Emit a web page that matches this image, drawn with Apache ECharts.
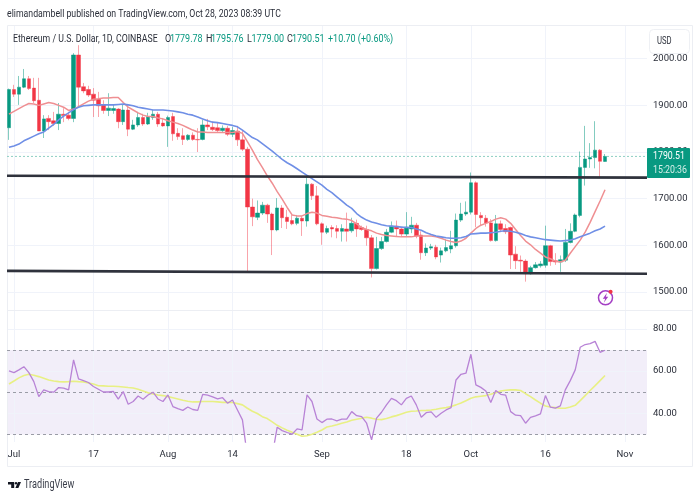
<!DOCTYPE html>
<html><head><meta charset="utf-8">
<style>html,body{margin:0;padding:0;background:#fff}#c{width:700px;height:500px}</style>
<script src="https://cdn.jsdelivr.net/npm/echarts@6/dist/echarts.min.js"></script></head>
<body><div id="c"></div>
<script>
const opens=[1852,1934,1924,1939,1957,1937,1911,1845,1872,1867,
1861,1881,1879,1872,2008,1940,1934,1924,1913,1901,
1889,1889,1892,1865,1890,1849,1858,1874,1860,1874,
1881,1862,1856,1876,1840,1835,1827,1836,1827,1827,
1858,1853,1852,1846,1851,1838,1845,1826,1806,1682,
1660,1669,1686,1667,1633,1680,1660,1653,1647,1658,
1652,1731,1706,1646,1628,1638,1636,1630,1635,1631,
1647,1638,1634,1616,1550,1593,1608,1628,1641,1635,
1624,1635,1643,1622,1584,1594,1596,1579,1588,1592,
1599,1654,1667,1671,1734,1664,1658,1648,1610,1646,
1636,1638,1581,1568,1566,1539,1552,1556,1557,1599,
1567,1564,1568,1606,1630,1664,1767,1785,1788,1804,1779.78];
const closes=[1934,1924,1939,1957,1936,1910,1845,1871,1865,1861,
1881,1878,1872,2008,1939,1931,1922,1911,1899,1889,
1894,1893,1865,1890,1849,1858,1874,1860,1876,1881,
1860,1856,1874,1839,1833,1827,1836,1827,1826,1858,
1854,1848,1846,1851,1838,1846,1826,1806,1682,1661,
1669,1686,1667,1633,1680,1659,1651,1646,1658,1652,
1731,1706,1646,1628,1636,1635,1630,1636,1630,1647,
1635,1634,1616,1550,1593,1608,1628,1641,1635,1624,
1639,1643,1620,1584,1594,1597,1575,1588,1595,1599,
1654,1667,1671,1734,1666,1659,1648,1610,1646,1634,
1629,1579,1567,1566,1539,1552,1558,1560,1599,1565,
1564,1569,1606,1630,1665,1767,1785,1788,1804,1780,1790.51];
const lows=[1826,1918,1901,1937,1933,1905,1845,1830,1847,1856,
1847,1864,1868,1864,1897,1926,1918,1875,1875,1882,
1877,1882,1851,1858,1834,1847,1854,1856,1858,1869,
1854,1854,1811,1824,1826,1815,1824,1824,1800,1825,
1847,1845,1841,1843,1834,1832,1813,1802,1543,1641,
1654,1665,1648,1579,1630,1637,1635,1643,1643,1620,
1640,1697,1643,1601,1624,1617,1615,1608,1608,1627,
1618,1631,1599,1531,1548,1590,1606,1626,1618,1618,
1618,1626,1615,1569,1577,1590,1570,1563,1585,1583,
1595,1650,1663,1666,1639,1641,1640,1608,1608,1628,
1624,1549,1549,1543,1522,1537,1550,1552,1552,1556,
1558,1543,1564,1604,1628,1660,1728,1766,1765,1745,1779];
const highs=[1936,1944,1963,1978,1963,1959,1959,1879,1879,1886,
1905,1894,1886,2012,2029,1948,1942,1937,1929,1911,
1926,1901,1894,1901,1901,1869,1886,1882,1884,1890,
1886,1873,1878,1884,1851,1851,1838,1842,1851,1869,
1871,1866,1864,1857,1856,1854,1856,1847,1811,1700,
1696,1693,1689,1670,1701,1686,1676,1665,1665,1663,
1749,1733,1727,1649,1642,1643,1643,1645,1670,1659,
1655,1642,1642,1622,1618,1618,1635,1651,1653,1639,
1671,1661,1648,1630,1604,1603,1601,1595,1612,1631,
1668,1691,1694,1756,1737,1671,1665,1656,1665,1653,
1645,1640,1598,1578,1570,1556,1564,1566,1642,1601,
1583,1578,1635,1647,1668,1801,1856,1819,1866,1806,1795.76];
const fastMA=[1881,1887,1893,1899,1904,1903,1900,1903,1906,1904,
1900,1896,1889,1892,1897,1903,1909,1913,1914,1916,
1916,1917,1917,1906,1896,1890,1884,1879,1876,1876,
1873,1871,1867,1864,1861,1857,1852,1847,1843,1843,
1842,1842,1842,1842,1842,1842,1844,1840,1822,1804,
1784,1767,1749,1733,1715,1699,1681,1665,1663,1663,
1668,1671,1669,1664,1662,1660,1659,1657,1656,1653,
1646,1638,1634,1631,1626,1623,1621,1620,1619,1618,
1618,1618,1620,1620,1620,1620,1618,1615,1611,1608,
1606,1609,1615,1626,1636,1643,1647,1651,1656,1659,
1656,1647,1634,1621,1609,1601,1591,1583,1575,1571,
1566,1564,1568,1583,1597,1611,1628,1649,1672,1695,1719];
const slowMA=[1810,1813,1817,1824,1829,1834,1839,1843,1851,1859,
1869,1877,1884,1891,1896,1899,1900,1901,1901,1901,
1901,1901,1902,1903,1901,1899,1896,1894,1892,1890,
1890,1890,1889,1888,1886,1884,1881,1879,1875,1871,
1867,1864,1863,1861,1859,1857,1854,1847,1839,1831,
1826,1818,1810,1802,1793,1784,1777,1771,1764,1757,
1750,1743,1736,1729,1720,1713,1704,1695,1686,1679,
1668,1660,1654,1650,1647,1644,1642,1641,1640,1639,
1638,1638,1635,1632,1627,1623,1620,1618,1616,1615,
1615,1616,1619,1624,1625,1626,1626,1627,1628,1630,
1631,1630,1628,1625,1621,1618,1616,1614,1612,1611,
1610,1609,1610,1611,1614,1618,1622,1626,1631,1635,1641];
const rsi=[60.1,59.3,60.6,62.1,59.3,55,47.9,51.1,50.3,50,
52.2,51.9,51.1,65.3,56.3,55.5,54.6,52.7,51.4,50.1,
50.1,50.4,46.7,50.3,44.3,45.6,48.2,46.7,48.7,50,
46.8,45.6,48.7,43.2,42.2,41.4,43,41.8,41.4,49,
48.6,47.8,46.8,47.4,44.8,46.3,41.6,36.9,19.5,21,
23,24,23,20,33.4,31.8,30.9,30.1,32.6,32.1,
48.7,45.6,37.3,35.6,37.2,37.3,36.4,37.2,37.2,40.8,
38.9,38.4,35.3,27.4,37.7,40.5,44,47.1,46,44,
47.1,48.2,44,38.1,40.3,40.7,38.1,40,41.6,42.7,
55.8,58.5,59,68,53.5,52.3,50.6,45.1,50.8,49,
48.6,40.8,39.1,38.9,35.3,38.1,38.8,39.7,48.4,42.9,
42.5,43.5,51.1,55.5,60.6,71.3,72.6,73,74.1,68.9,69.9];
const rsiMA=[53.9,55.3,56.8,57.9,58.5,58,57.4,56.6,55.8,55.3,
55,54.9,55,55.2,55,54.9,54.4,53.9,53.1,53,
52.8,52.8,52.7,52.5,52.2,52,51.4,50.6,49.7,49.2,
48.7,48.4,47.9,47.4,46.8,46.2,45.7,45.4,45.4,45.6,
45.6,45.6,45.4,45.2,45.2,45.1,44.6,44,42.4,41,
39.9,38.4,37.5,35.9,34.3,33.1,32,31,30.1,29.1,
29.4,30.1,31,32.1,33.5,34,34.6,35.3,35.9,36.7,
37.2,37.7,38.1,37.7,37.2,37,37.5,38.3,38.9,39.7,
40.5,41,41.1,41.3,41.4,41.6,41.9,42.4,42.7,43.2,
44,44.9,46,47.1,47.8,48.1,48.4,49,49.8,50.6,
50.9,51.1,51.1,50.8,49.3,47.9,46.3,44.8,43.5,43,
42.7,42.4,42.4,43,43.8,46,48.4,50.8,53.1,55.5,57.9];
const upperLine=[1749,1745];
const lowerLine=[1545,1539];
const lastPrice=1790.51;
const priceTicks=[1500,1600,1700,1800,1900,2000];
const rsiTicks=[40,60,80];
const rsiLevels=[70,50,30];
const xTickIdx=[1,17,32,45,63,80,93,108,124];
const xTickText=['Jul','17','Aug','14','Sep','18','Oct','16','Nov'];

const FONT='Roboto,sans-serif';
const UP='#089981',DOWN='#F23645',TXT='#2a2e39',GRID='#f0f3fa';
const X_MIN=-0.4,X_MAX=128.45;
const idx=a=>a.map((v,i)=>[i,v]);
const ohlc=opens.map((o,i)=>[i,o,closes[i],lows[i],highs[i]]);
const xGrid=xTickIdx.map(v=>({xAxis:v}));
const gridMark=(ticks)=>({silent:true,symbol:'none',z:0,label:{show:false},animation:false,
  lineStyle:{color:GRID,width:1,type:'solid'},
  data:xGrid.concat(ticks.map(v=>({yAxis:v})))});

const text=(x,y,t,fill,size,sx)=>({type:'text',z:50,x:x,y:y,scaleX:sx,silent:true,
  style:{text:t,fill:fill,font:size+'px '+FONT,textVerticalAlign:'middle'}});

const S=0.78;
const legendBits=[[165,'O',TXT],[170,'1779.78',UP],[206,'H',TXT],[211,'1795.76',UP],[247,'L',TXT],[251.5,'1779.00',UP],[287,'C',TXT],[292,'1790.51',UP],[328,'+10.70 (+0.60%)',UP]];

const chart=echarts.init(document.getElementById('c'),null,{renderer:'canvas'});
chart.setOption({
 animation:false,backgroundColor:'#fff',
 grid:[{left:7,right:53,top:25,height:285},{left:7,right:53,top:311,height:131}],
 xAxis:[
  {type:'value',gridIndex:0,min:X_MIN,max:X_MAX,show:false,splitLine:{show:false}},
  {type:'value',gridIndex:1,min:X_MIN,max:X_MAX,splitLine:{show:false},axisLine:{show:false},axisTick:{show:false},
   axisLabel:{customValues:xTickIdx,margin:8,color:TXT,fontFamily:FONT,fontSize:9.5,formatter:v=>xTickText[xTickIdx.indexOf(v)]}},
  {type:'value',gridIndex:0,min:0,max:1,show:false,splitLine:{show:false}}
 ],
 yAxis:[
  {type:'value',gridIndex:0,position:'right',min:1461.2,max:2072.3,splitLine:{show:false},axisLine:{show:false},axisTick:{show:false},
   axisLabel:{customValues:priceTicks,margin:6,color:TXT,fontFamily:FONT,fontSize:9.5,formatter:v=>v.toFixed(2)}},
  {type:'value',gridIndex:1,position:'right',min:26.4,max:88.5,splitLine:{show:false},axisLine:{show:false},axisTick:{show:false},
   axisLabel:{customValues:rsiTicks,margin:6,color:TXT,fontFamily:FONT,fontSize:9.5,formatter:v=>v.toFixed(2)}}
 ],
 series:[
  {type:'candlestick',xAxisIndex:0,yAxisIndex:0,z:2,barWidth:4,data:ohlc,
   itemStyle:{color:UP,color0:DOWN,borderColor:'rgba(8,153,129,0.5)',borderColor0:'rgba(242,54,69,0.45)',borderWidth:1}},
  {type:'line',name:'fast',xAxisIndex:0,yAxisIndex:0,z:3,data:idx(fastMA),showSymbol:false,lineStyle:{color:'#ef8f92',width:1.5},markLine:gridMark(priceTicks)},
  {type:'line',name:'slow',xAxisIndex:0,yAxisIndex:0,z:3,data:idx(slowMA),showSymbol:false,lineStyle:{color:'#6f8fe6',width:1.6}},
  {type:'line',name:'upper',xAxisIndex:2,yAxisIndex:0,z:4,data:[[0,upperLine[0]],[1,upperLine[1]]],showSymbol:false,lineStyle:{color:'#2f323c',width:2.6}},
  {type:'line',name:'lower',xAxisIndex:2,yAxisIndex:0,z:4,data:[[0,lowerLine[0]],[1,lowerLine[1]]],showSymbol:false,lineStyle:{color:'#2f323c',width:2.6}},
  {type:'line',name:'last',xAxisIndex:2,yAxisIndex:0,z:1,data:[[0,lastPrice],[1,lastPrice]],showSymbol:false,lineStyle:{color:'#8fd0c4',width:1,type:[2,2]}},
  {type:'line',name:'rsi',xAxisIndex:1,yAxisIndex:1,z:4,data:idx(rsi),showSymbol:false,clip:true,lineStyle:{color:'#b883d6',width:1.3},
   markLine:gridMark(rsiTicks),
   markArea:{silent:true,z:0,itemStyle:{color:'rgba(126,87,194,0.1)'},data:[[{yAxis:rsiLevels[2]},{yAxis:rsiLevels[0]}]]}},
  {type:'line',name:'rsiMA',xAxisIndex:1,yAxisIndex:1,z:3,data:idx(rsiMA),showSymbol:false,lineStyle:{color:'#e8f084',width:1.6},
   markLine:{silent:true,symbol:'none',z:1,label:{show:false},lineStyle:{color:'#9a9ca6',width:1,type:[3,3]},data:rsiLevels.map(v=>({yAxis:v}))}}
 ],
 graphic:[
  {type:'rect',z:1,silent:true,shape:{x:7.5,y:25.5,width:685,height:441},style:{fill:'none',stroke:'#eceef3',lineWidth:1}},
  {type:'line',z:1,silent:true,shape:{x1:7,y1:310.5,x2:692,y2:310.5},style:{stroke:'#eceef3',lineWidth:1}},
  text(7,14,'elimandambell published on TradingView.com, Oct 28, 2023 08:39 UTC',TXT,11.5,0.76),
  text(13,39.5,'Ethereum / U.S. Dollar, 1D, COINBASE',TXT,11.5,0.76)
 ].concat(legendBits.map(b=>text(b[0],39.5,b[1],b[2],11.5,S))).concat([
  {type:'rect',z:40,silent:true,shape:{x:649.5,y:29.5,width:40,height:24,r:4},style:{fill:'#fff',stroke:'#eef0f4',lineWidth:1}},
  text(657,41.5,'USD',TXT,11,0.7),
  {type:'rect',z:40,silent:true,shape:{x:647,y:148,width:43,height:30,r:1},style:{fill:UP}},
  text(653,156.5,'1790.51','#fff',11,0.8),
  text(653,170,'15:20:36','#d5efe9',11,0.8),
  {type:'circle',z:40,silent:true,shape:{cx:605.5,cy:297.8,r:7},style:{fill:'#fff',stroke:'#a43fc4',lineWidth:1.5}},
  {type:'polygon',z:41,silent:true,shape:{points:[[607,292.8],[602.8,298.8],[605.2,298.8],[603.8,302.8],[608.2,296.8],[605.8,296.8]]},style:{fill:'#a43fc4'}},
  {type:'circle',z:42,silent:true,shape:{cx:610.6,cy:291.8,r:2},style:{fill:'#f23645'}},
  {type:'polygon',z:40,silent:true,shape:{points:[[8,482],[14.2,482],[14.2,488],[11.2,488],[11.2,484.4],[8,484.4]]},style:{fill:'#131722'}},
  {type:'circle',z:40,silent:true,shape:{cx:16,cy:483.2,r:1.2},style:{fill:'#131722'}},
  {type:'polygon',z:40,silent:true,shape:{points:[[15.4,488],[18,482],[21,482],[18.4,488]]},style:{fill:'#131722'}},
  text(24,485,'TradingView','#3a3e4a',12.5,0.73)
 ])
});
</script></body></html>
